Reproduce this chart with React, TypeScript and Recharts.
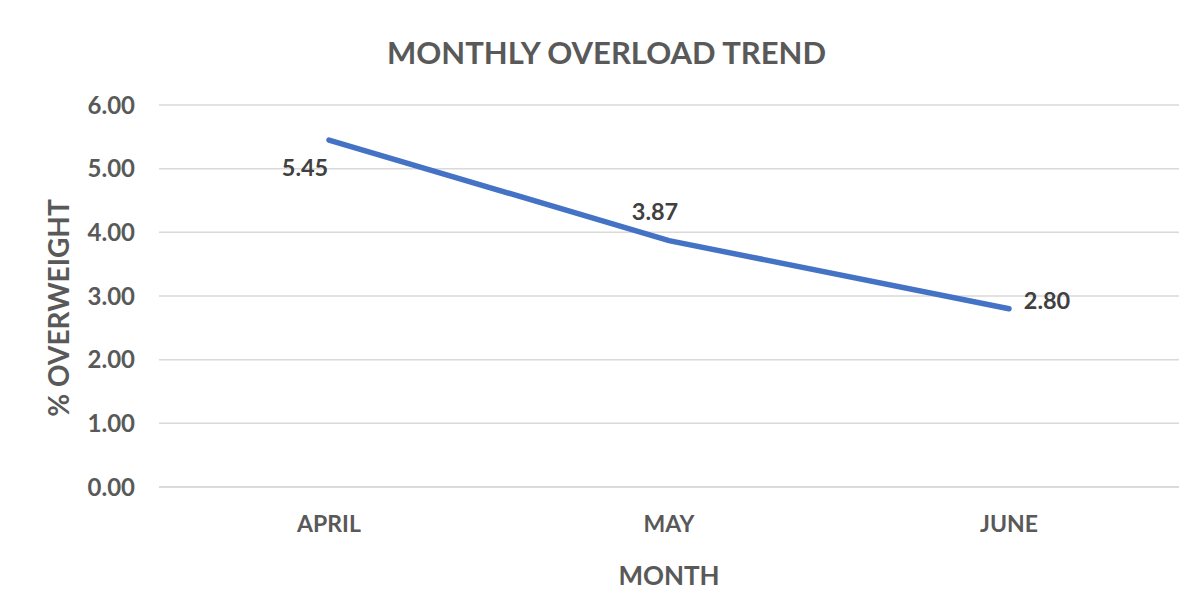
import React from 'react';
import { LineChart, Line, XAxis, YAxis, CartesianGrid, LabelList, Label } from 'recharts';

const months = ['APRIL', 'MAY', 'JUNE'];
const overweight = [5.45, 3.87, 2.8];
const yTicks = [0, 1, 2, 3, 4, 5, 6];
const labelOffsets = [
  { dx: -24, dy: 27 },
  { dx: -14, dy: -30 },
  { dx: 38, dy: -9 },
];

const data = months.map((m, i) => ({ month: m, value: overweight[i] }));

const FONT = 'Lato, "Open Sans", sans-serif';

const renderLabel = (props: any) => {
  const { x, y, index, value } = props;
  const o = labelOffsets[index] || { dx: 0, dy: 0 };
  return (
    <text
      x={x + o.dx}
      y={y + o.dy}
      textAnchor="middle"
      dominantBaseline="central"
      fontFamily={FONT}
      fontWeight={700}
      fontSize={23.5}
      fill="#404040"
    >
      {Number(value).toFixed(2)}
    </text>
  );
};

const renderYTitle = (props: any) => {
  const vb = props.viewBox || {};
  const cx = 58;
  const cy = vb.y + vb.height / 2 + 12;
  return (
    <text
      x={cx}
      y={cy}
      transform={`rotate(-90, ${cx}, ${cy})`}
      textAnchor="middle"
      dominantBaseline="central"
      fontFamily={FONT}
      fontWeight={700}
      fontSize={28}
      fill="#595959"
    >
      % OVERWEIGHT
    </text>
  );
};

export default function App() {
  return (
    <div style={{ position: 'relative', margin: '-8px 0 0 -8px', width: 1203, height: 614, background: '#fff', overflow: 'hidden' }}>
      <div
        style={{
          position: 'absolute',
          left: 5,
          top: 5,
          width: 1198,
          height: 609,
          borderTop: '3px solid #d6d6d6',
          borderLeft: '3px solid #d6d6d6',
          boxSizing: 'border-box',
        }}
      />
      <div
        style={{
          position: 'absolute',
          left: 0,
          top: 34,
          width: 1213,
          textAlign: 'center',
          fontFamily: FONT,
          fontWeight: 700,
          fontSize: 31,
          color: '#595959',
          lineHeight: '36px',
        }}
      >
        MONTHLY OVERLOAD TREND
      </div>
      <div style={{ position: 'absolute', left: 0, top: 0 }}>
        <LineChart
          width={1203}
          height={614}
          data={data}
          margin={{ top: 105, right: 24, bottom: 27, left: 0 }}
        >
          <CartesianGrid vertical={false} stroke="#d9d9d9" strokeWidth={1.5} />
          <XAxis
            dataKey="month"
            height={100}
            padding={{ left: 170, right: 170 }}
            axisLine={{ stroke: '#d9d9d9', strokeWidth: 1.5 }}
            tickLine={false}
            tickSize={0}
            tickMargin={29}
            tick={{ fontFamily: FONT, fontWeight: 700, fontSize: 23, fill: '#595959' }}
          >
            <Label
              value="MONTH"
              position="insideBottom"
              offset={2}
              style={{ fontFamily: FONT, fontWeight: 700, fontSize: 26, fill: '#595959' }}
            />
          </XAxis>
          <YAxis
            width={159}
            domain={[0, 6]}
            ticks={yTicks}
            axisLine={false}
            tickLine={false}
            tickSize={0}
            tickMargin={24}
            tickFormatter={(v: number) => v.toFixed(2)}
            tick={{ fontFamily: FONT, fontWeight: 700, fontSize: 24, fill: '#595959' }}
          >
            <Label content={renderYTitle} />
          </YAxis>
          <Line
            type="linear"
            dataKey="value"
            stroke="#4472c4"
            strokeWidth={5.5}
            strokeLinecap="round"
            dot={false}
            activeDot={false}
            isAnimationActive={false}
          >
            <LabelList dataKey="value" content={renderLabel} />
          </Line>
        </LineChart>
      </div>
    </div>
  );
}
